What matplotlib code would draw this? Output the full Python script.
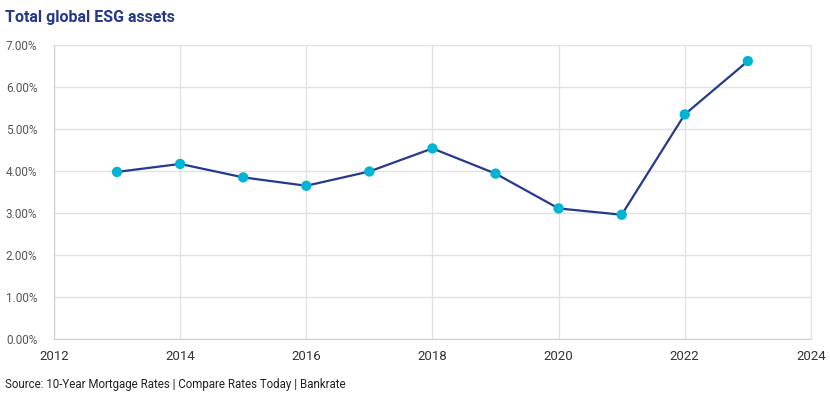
import matplotlib
matplotlib.use("Agg")
import matplotlib.pyplot as plt
from matplotlib.ticker import FuncFormatter, MultipleLocator

years = [2013, 2014, 2015, 2016, 2017, 2018, 2019, 2020, 2021, 2022, 2023]
values = [3.98, 4.17, 3.85, 3.65, 3.99, 4.54, 3.94, 3.11, 2.96, 5.35, 6.62]

fig = plt.figure(figsize=(8.3, 3.96), dpi=100)
ax = fig.add_axes([0.065, 0.144, 0.912, 0.742])

ax.plot(years, values, color="#243a8c", lw=1.6, zorder=3)
ax.scatter(years, values, s=55, color="#00b4d4", zorder=4, edgecolors="none")

ax.set_xlim(2012, 2024)
ax.set_ylim(0, 7)
ax.xaxis.set_major_locator(MultipleLocator(2))
ax.yaxis.set_major_locator(MultipleLocator(1))
ax.yaxis.set_major_formatter(FuncFormatter(lambda v, p: f"{v:.2f}%"))
ax.grid(True, color="#e2e2e2", lw=1)
ax.set_axisbelow(True)
for s in ["top", "right"]:
    ax.spines[s].set_color("#e2e2e2")
for s in ["left", "bottom"]:
    ax.spines[s].set_color("#d0d0d0")
ax.tick_params(length=0)
ax.tick_params(axis="y", labelsize=8.5, labelcolor="#555555", pad=12)
ax.tick_params(axis="x", labelsize=9.5, labelcolor="#333333", pad=8)
for lab in ax.get_xticklabels():
    lab.set_family(["Roboto", "DejaVu Sans"])
for lab in ax.get_yticklabels():
    lab.set_family(["Roboto", "DejaVu Sans"])

fig.text(0.006, 0.955, "Total global ESG assets", fontsize=11.5, fontweight="bold",
         color="#26398a", family=["Roboto", "DejaVu Sans"], va="center")
fig.text(0.006, 0.03, "Source: 10-Year Mortgage Rates | Compare Rates Today | Bankrate",
         fontsize=8.3, color="#222222", family=["Roboto", "DejaVu Sans"], va="center")

fig.savefig("out.png", dpi=100)
